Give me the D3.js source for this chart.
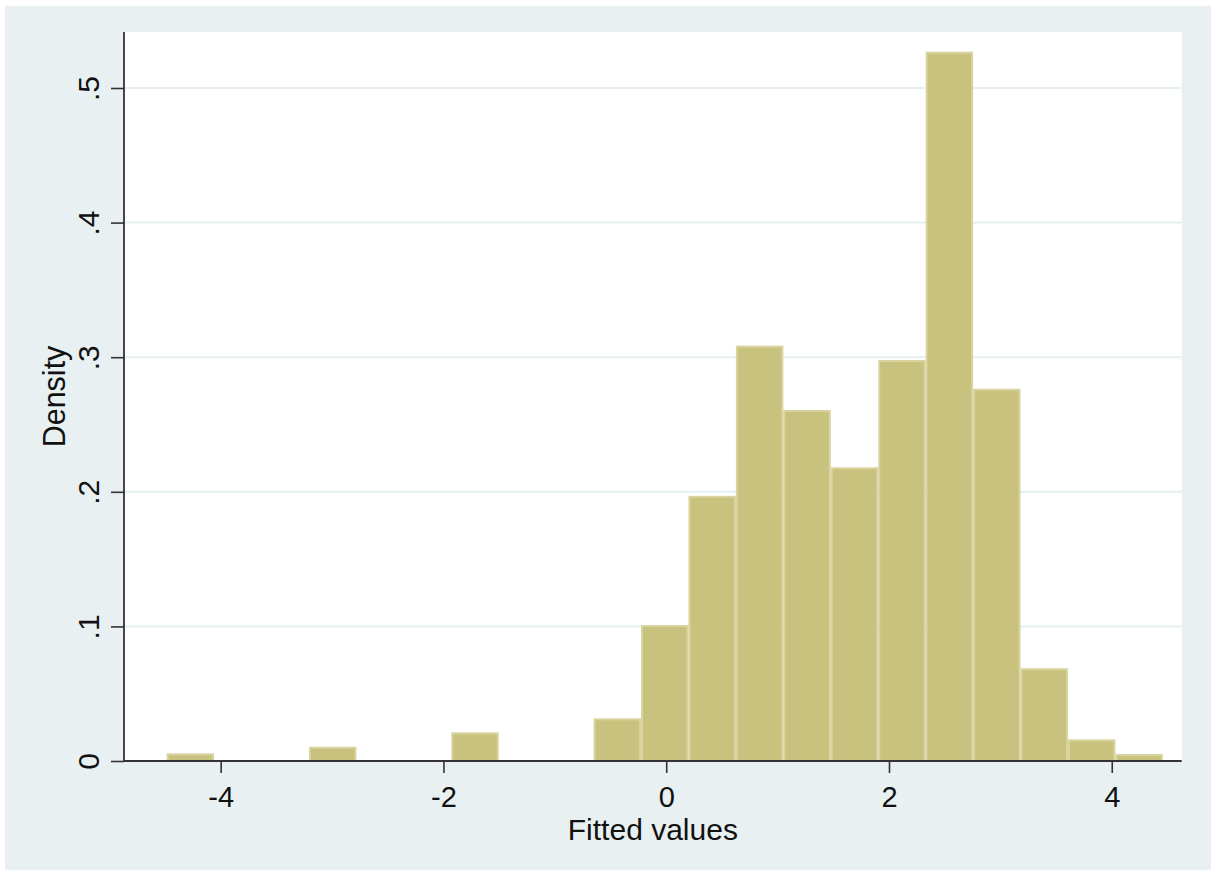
<!DOCTYPE html>
<html>
<head>
<meta charset="utf-8">
<script src="https://cdn.jsdelivr.net/npm/d3@7"></script>
<style>
  html, body { margin: 0; padding: 0; background: #ffffff; }
  svg text { font-family: "Liberation Sans", Arial, sans-serif; fill: #111; }
</style>
</head>
<body>
<div id="chart"></div>
<script>
"use strict"

/* DATA
 */
const binStart = -4.485;          // left edge of first bin
const binWidth = 0.4259;
const densities = [0.0057, 0, 0, 0.0106, 0, 0, 0.0213, 0, 0, 0.0317,
                   0.101, 0.197, 0.3086, 0.2608, 0.2182, 0.2979, 0.527,
                   0.2766, 0.0689, 0.0161, 0.0052];
const xTicks = [-4, -2, 0, 2, 4];
const yTicks = [0, 0.1, 0.2, 0.3, 0.4, 0.5];
const yTickLabels = ["0", ".1", ".2", ".3", ".4", ".5"];
const xTitle = "Fitted values";
const yTitle = "Density";

/* LAYOUT
 */
const W = 1211, H = 870;
const plot = { left: 124, right: 1181.7, top: 32, bottom: 761 };

const svg = d3.select("#chart").append("svg")
    .attr("width", W)
    .attr("height", H);

// graph region (white strip on left/top, like the original)
svg.append("rect")
    .attr("x", 5).attr("y", 6)
    .attr("width", W - 5).attr("height", H - 6)
    .attr("fill", "#e8f0f2");

svg.append("rect")
    .attr("x", plot.left).attr("y", plot.top)
    .attr("width", plot.right - plot.left)
    .attr("height", plot.bottom - plot.top)
    .attr("fill", "#ffffff");

const x = d3.scaleLinear()
    .domain([-4.868, 4.628])
    .range([plot.left, plot.right]);

const y = d3.scaleLinear()
    .domain([0, 0.5416])
    .range([plot.bottom, plot.top]);

/* GRID
 */
svg.append("g")
    .selectAll("line")
    .data(yTicks.filter((d) => d > 0))
    .enter().append("line")
    .attr("x1", plot.left).attr("x2", plot.right)
    .attr("y1", (d) => y(d)).attr("y2", (d) => y(d))
    .attr("stroke", "#e6eff1")
    .attr("stroke-width", 2);

/* BARS
 */
const bins = densities.map((d, i) => ({
    x0: binStart + i * binWidth,
    x1: binStart + (i + 1) * binWidth,
    density: d
})).filter((b) => b.density > 0);

svg.append("g")
    .selectAll("rect")
    .data(bins)
    .enter().append("rect")
    .attr("x", (d) => x(d.x0) + 1)
    .attr("y", (d) => y(d.density) + 1)
    .attr("width", (d) => x(d.x1) - x(d.x0) - 2)
    .attr("height", (d) => y(0) - y(d.density) - 1)
    .attr("fill", "#c9c27f")
    .attr("stroke", "#d8d39f")
    .attr("stroke-width", 2);

/* AXES
 */
const xAxis = svg.append("g")
    .attr("transform", `translate(0,${plot.bottom})`)
    .call(d3.axisBottom(x).tickValues(xTicks).tickSize(12)
          .tickFormat((d) => String(d)).tickSizeOuter(0));   // plain hyphen

xAxis.select(".domain").remove();
xAxis.selectAll(".tick line")
    .attr("stroke", "#333").attr("stroke-width", 1.6);
xAxis.selectAll(".tick text")
    .attr("y", 45.5).attr("dy", null)
    .attr("font-size", 29)
    .style("font-family", "\"Liberation Sans\", Arial, sans-serif")
    .attr("fill", "#111");

const yAxis = svg.append("g")
    .attr("transform", `translate(${plot.left},0)`)
    .call(d3.axisLeft(y).tickValues(yTicks).tickSize(13)
          .tickFormat((d, i) => yTickLabels[i]).tickSizeOuter(0));

yAxis.select(".domain").remove();
yAxis.selectAll(".tick line")
    .attr("stroke", "#333").attr("stroke-width", 1.6);
yAxis.selectAll(".tick text")
    .attr("x", null).attr("dy", null)
    .attr("transform", "translate(-25,0) rotate(-90)")
    .attr("text-anchor", "middle")
    .attr("font-size", 30)
    .style("font-family", "\"Liberation Sans\", Arial, sans-serif")
    .attr("fill", "#111");

// axis lines
svg.append("line")
    .attr("x1", plot.left).attr("x2", plot.right)
    .attr("y1", plot.bottom).attr("y2", plot.bottom)
    .attr("stroke", "#333").attr("stroke-width", 1.8);
svg.append("line")
    .attr("x1", plot.left).attr("x2", plot.left)
    .attr("y1", plot.top).attr("y2", plot.bottom)
    .attr("stroke", "#333").attr("stroke-width", 1.8);

/* TITLES
 */
svg.append("text")
    .attr("x", (plot.left + plot.right) / 2)
    .attr("y", 840)
    .attr("text-anchor", "middle")
    .attr("font-size", 30)
    .text(xTitle);

svg.append("text")
    .attr("transform", `translate(65,${(plot.top + plot.bottom) / 2}) rotate(-90)`)
    .attr("text-anchor", "middle")
    .attr("font-size", 30.5)
    .text(yTitle);
</script>
</body>
</html>
